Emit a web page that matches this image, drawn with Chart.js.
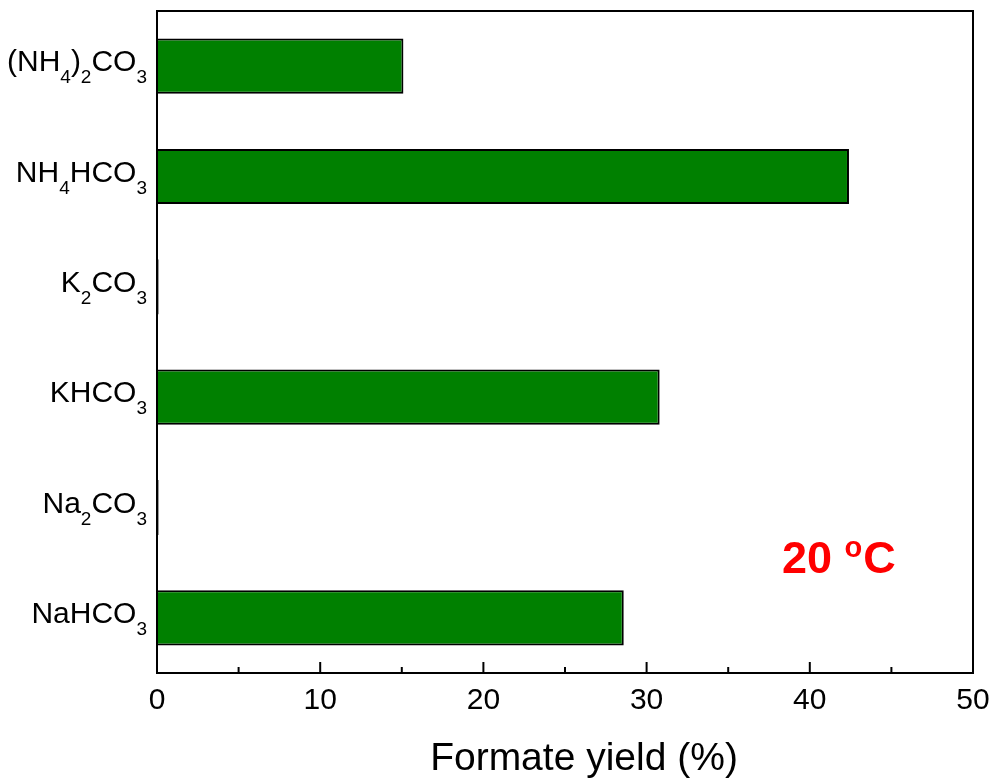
<!DOCTYPE html>
<html>
<head>
<meta charset="utf-8">
<script src="https://cdn.jsdelivr.net/npm/chart.js@4"></script>
<style>
  body { margin: 0; background: #fff; }
  #wrap { width: 991px; height: 782px; }
</style>
</head>
<body>
<div id="wrap"><canvas id="myChart" width="991" height="782"></canvas></div>
<script>
    // salts, top to bottom; digits are drawn as subscripts
    const salts = ['(NH4)2CO3', 'NH4HCO3', 'K2CO3', 'KHCO3', 'Na2CO3', 'NaHCO3'];
    const formateYield = [15.1, 42.4, 0.1, 30.8, 0.1, 28.6];
    const xTicks = [0, 10, 20, 30, 40, 50];
    const xTitle = 'Formate yield (%)';
    const tempLabel = '20 ';

    var ctx = document.getElementById('myChart').getContext('2d');
    const fontFam = '"Liberation Sans", Arial, sans-serif';

    function drawFormula(c, text, xRight, yMid) {
        // split into normal / subscript pieces
        var parts = [];
        for (const ch of text) {
            const sub = /[0-9]/.test(ch);
            if (parts.length && parts[parts.length - 1].sub === sub) parts[parts.length - 1].t += ch;
            else parts.push({ t: ch, sub: sub });
        }
        var total = 0;
        parts.forEach(p => {
            c.font = (p.sub ? '19px ' : '30px ') + fontFam;
            p.w = c.measureText(p.t).width;
            total += p.w;
        });
        var x = xRight - total;
        var base = yMid + 5;
        c.textAlign = 'left';
        c.textBaseline = 'alphabetic';
        parts.forEach(p => {
            c.font = (p.sub ? '19px ' : '30px ') + fontFam;
            c.fillText(p.t, x, p.sub ? base + 12 : base);
            x += p.w;
        });
    }

    const framePlugin = {
        id: 'frame',
        afterDraw(chart) {
            const c = chart.ctx;
            const a = chart.chartArea;
            const xs = chart.scales.x;
            const ys = chart.scales.y;
            c.save();
            c.fillStyle = '#000';
            // category labels with subscripts
            salts.forEach((s, i) => {
                drawFormula(c, s, a.left - 10, ys.getPixelForValue(i));
            });
            // axis title
            c.font = '39px ' + fontFam;
            c.textAlign = 'center';
            c.textBaseline = 'alphabetic';
            c.fillText(xTitle, 584, 770);
            // inward ticks on bottom axis
            c.strokeStyle = '#000';
            c.lineWidth = 2;
            xs.ticks.forEach(t => {
                const px = xs.getPixelForValue(t.value);
                const len = (t.value % 10 === 0) ? 11 : 6;
                c.beginPath();
                c.moveTo(px, a.bottom);
                c.lineTo(px, a.bottom - len);
                c.stroke();
            });
            // box
            c.strokeRect(a.left, a.top, a.right - a.left, a.bottom - a.top);
            // temperature note
            c.fillStyle = '#ff0000';
            c.textAlign = 'left';
            c.font = 'bold 45px ' + fontFam;
            var tx = xs.getPixelForValue(38.3);
            var ty = 573;
            c.fillText(tempLabel, tx, ty);
            tx += c.measureText(tempLabel).width;
            c.font = 'bold 29px ' + fontFam;
            c.fillText('o', tx, ty - 16);
            tx += c.measureText('o').width + 1;
            c.font = 'bold 45px ' + fontFam;
            c.fillText('C', tx, ty);
            c.restore();
        }
    };

    var barChart = new Chart(ctx, {
        type: 'bar',
        data: {
            labels: salts,
            datasets: [{
                data: formateYield,
                backgroundColor: '#008000',
                borderColor: '#000000',
                borderWidth: 2,
                barPercentage: 0.5,
                categoryPercentage: 1.0
            }]
        },
        plugins: [framePlugin],
        options: {
            indexAxis: 'y',
            responsive: false,
            animation: false,
            layout: { padding: { top: 11, right: 18, left: 0, bottom: 0 } },
            plugins: { legend: { display: false }, tooltip: { enabled: false } },
            scales: {
                x: {
                    min: 0,
                    max: 50,
                    ticks: {
                        stepSize: 5,
                        padding: 10,
                        color: '#000',
                        font: { family: fontFam, size: 30 },
                        autoSkip: false,
                        maxRotation: 0,
                        callback: v => xTicks.includes(v) ? String(v) : ''
                    },
                    grid: { display: false, drawTicks: false },
                    border: { display: false },
                    afterFit(scale) {
                        scale.height = 109;
                        scale.paddingLeft = 0;
                        scale.paddingRight = 0;
                    }
                },
                y: {
                    ticks: { display: false },
                    grid: { display: false, drawTicks: false },
                    border: { display: false },
                    afterFit(scale) { scale.width = 157; }
                }
            }
        }
    });
</script>
</body>
</html>
